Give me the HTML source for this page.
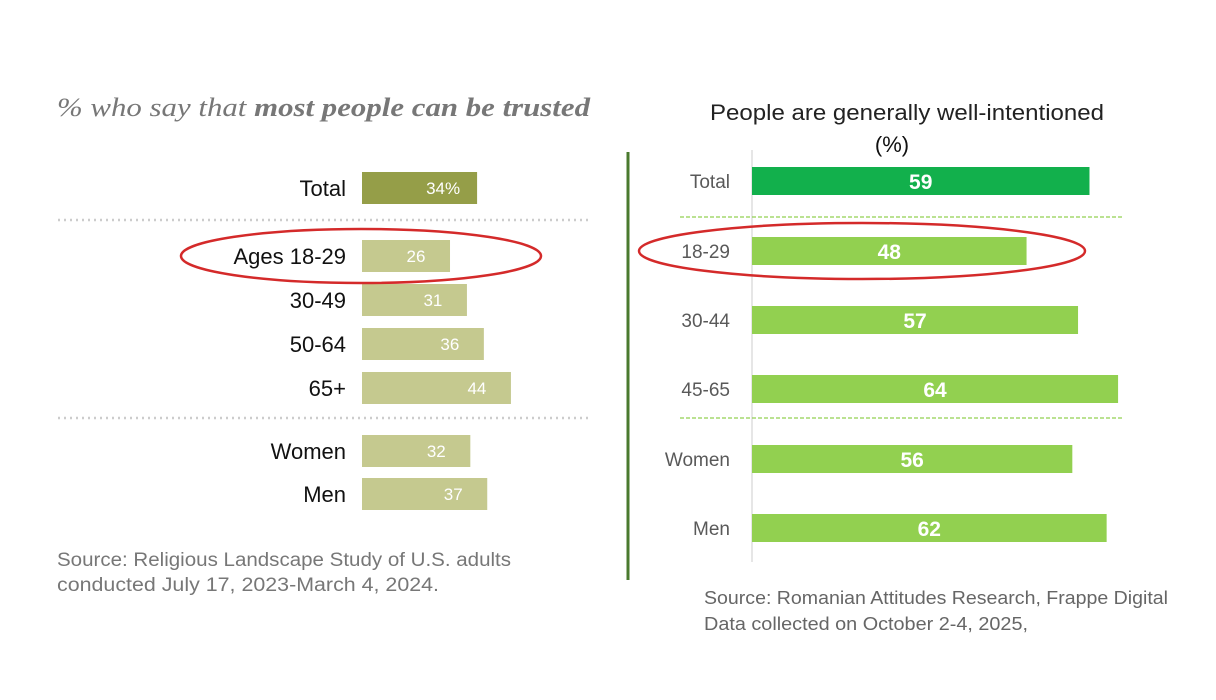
<!DOCTYPE html>
<html><head><meta charset="utf-8"><style>
body{margin:0;background:#fff;}
svg{display:block;font-family:"Liberation Sans",sans-serif;}
</style></head><body>
<svg id="c" width="1216" height="700" viewBox="0 0 1216 700">
<text x="57" y="116" font-family="Liberation Serif,serif" font-style="italic" font-size="26" fill="#777" textLength="533" lengthAdjust="spacingAndGlyphs">% who say that <tspan font-weight="bold">most people can be trusted</tspan></text>
<line x1="58" y1="220" x2="590" y2="220" stroke="#ccc" stroke-width="2.5" stroke-dasharray="2 4"/>
<line x1="58" y1="418" x2="590" y2="418" stroke="#ccc" stroke-width="2.5" stroke-dasharray="2 4"/>
<g id="lbars"></g>
<text x="57" y="566" font-size="19" fill="#777" textLength="454" lengthAdjust="spacingAndGlyphs">Source: Religious Landscape Study of U.S. adults</text>
<text x="57" y="591" font-size="19" fill="#777" textLength="382" lengthAdjust="spacingAndGlyphs">conducted July 17, 2023-March 4, 2024.</text>
<line x1="628" y1="152" x2="628" y2="580" stroke="#4a7a2e" stroke-width="3"/>
<text x="710" y="120" font-size="22" fill="#222" textLength="394" lengthAdjust="spacingAndGlyphs">People are generally well-intentioned</text>
<text x="892" y="152" text-anchor="middle" font-size="22" fill="#111">(%)</text>
<line x1="752" y1="150" x2="752" y2="562" stroke="#ddd" stroke-width="1.5"/>
<line x1="680" y1="217" x2="1124" y2="217" stroke="#92d050" stroke-width="1.2" stroke-dasharray="4 2"/>
<line x1="680" y1="418" x2="1124" y2="418" stroke="#92d050" stroke-width="1.2" stroke-dasharray="4 2"/>
<g id="rbars"></g>
<text x="704" y="604" font-size="18" fill="#666" textLength="464" lengthAdjust="spacingAndGlyphs">Source: Romanian Attitudes Research, Frappe Digital</text>
<text x="704" y="630" font-size="18" fill="#666" textLength="324" lengthAdjust="spacingAndGlyphs">Data collected on October 2-4, 2025,</text>
<ellipse cx="361" cy="256" rx="180" ry="27" fill="none" stroke="#d42a2a" stroke-width="2.5"/>
<ellipse cx="862" cy="251" rx="223" ry="28" fill="none" stroke="#d42a2a" stroke-width="2.5"/>
</svg>
<script>
const leftCats=["Total","Ages 18-29","30-49","50-64","65+","Women","Men"];
const leftVals=[34,26,31,36,44,32,37];
const leftLabels=["34%","26","31","36","44","32","37"];
const rightCats=["Total","18-29","30-44","45-65","Women","Men"];
const rightVals=[59,48,57,64,56,62];
const NS="http://www.w3.org/2000/svg";
function mk(t,a,p){const e=document.createElementNS(NS,t);for(const k in a)e.setAttribute(k,a[k]);p.appendChild(e);return e;}
const lx=v=>362+v*3.385;
const lY=[188,256,300,344,388,451,494];
const lg=document.getElementById('lbars');
leftCats.forEach((c,i)=>{
 const y=lY[i];
 const r=mk('rect',{x:362,y:y-16,width:lx(leftVals[i])-362,height:32,fill:i===0?'#959e48':'#c5c98f'},lg);
 
 
 const t=mk('text',{x:346,y:y+8,'text-anchor':'end','font-size':22,fill:'#111'},lg);t.textContent=c;
 
 
 const v=mk('text',{x:lx(leftVals[i])-34,y:y+6,'text-anchor':'middle','font-size':17,fill:'#fff'},lg);v.textContent=leftLabels[i];
 
 
});
const rx=v=>752+v*5.72;
const rY=[181,251,320,389,459,528];
const rg=document.getElementById('rbars');
rightCats.forEach((c,i)=>{
 const y=rY[i];
 const r=mk('rect',{x:752,y:y-14,width:rx(rightVals[i])-752,height:28,fill:i===0?'#12b04c':'#92d050'},rg);
 
 
 const t=mk('text',{x:730,y:y+7,'text-anchor':'end','font-size':19,fill:'#595959'},rg);t.textContent=c;
 
 
 const v=mk('text',{x:(752+rx(rightVals[i]))/2,y:y+8,'text-anchor':'middle','font-size':21,'font-weight':'bold',fill:'#fff'},rg);v.textContent=rightVals[i];
 
 
});
</script>
</body></html>
